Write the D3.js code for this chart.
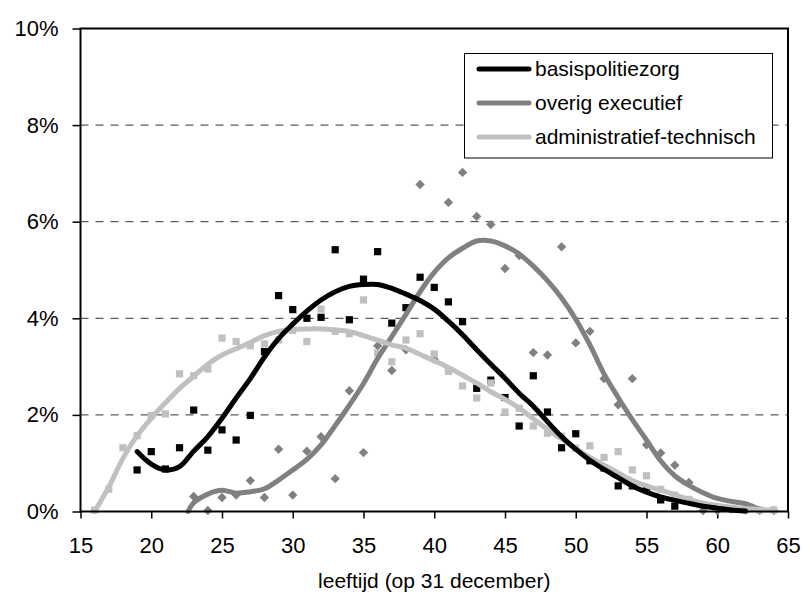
<!DOCTYPE html>
<html>
<head>
<meta charset="utf-8">
<script src="https://cdn.jsdelivr.net/npm/d3@7"></script>
<style>
  html, body { margin: 0; padding: 0; background: #fff; }
  svg { display: block; }
  text { font-family: "Liberation Sans", Arial, sans-serif; fill: #000; }
</style>
</head>
<body>
<svg id="chart" width="803" height="594"></svg>
<script>
// ---------- data ----------
const xTicks = [15, 20, 25, 30, 35, 40, 45, 50, 55, 60, 65];
const yTicks = [0, 2, 4, 6, 8, 10];
const seriesNames = ["basispolitiezorg", "overig executief", "administratief-technisch"];
const xTitle = "leeftijd (op 31 december)";

// observed points (percent), basispolitiezorg: ages 19..57
const basisAges = [19,20,21,22,23,24,25,26,27,28,29,30,31,32,33,34,35,36,37,38,39,40,41,42,43,44,45,46,47,48,49,50,51,52,53,54,55,56,57];
const basisVals = [0.86,1.24,0.88,1.32,2.10,1.27,1.69,1.48,1.99,3.31,4.47,4.18,4.00,4.02,5.42,3.97,4.81,5.38,3.90,4.22,4.85,4.64,4.34,3.93,2.55,2.72,2.36,1.77,2.81,2.06,1.32,1.61,1.05,0.90,0.53,0.53,0.45,0.24,0.11];

// overig executief: ages 23..64
const overigAges = [23,24,25,26,27,28,29,30,31,32,33,34,35,36,37,38,39,40,41,42,43,44,45,46,47,48,49,50,51,52,53,54,55,56,57,58,59,60,61,62,63,64];
const overigVals = [0.31,0.02,0.29,0.34,0.64,0.29,1.29,0.34,1.25,1.55,0.68,2.50,1.22,3.43,2.92,3.35,6.77,3.15,6.40,7.02,6.11,5.94,5.03,5.30,3.29,3.24,5.48,3.49,3.73,2.75,2.21,2.75,1.38,1.21,0.96,0.60,0.02,0.02,0.05,0.03,0.02,0.02];

// administratief-technisch: ages 16..64
const adminAges = [16,17,18,19,20,21,22,23,24,25,26,27,28,29,30,31,32,33,34,35,36,37,38,39,40,41,42,43,44,45,46,47,48,49,50,51,52,53,54,55,56,57,58,59,60,61,62,63,64];
const adminVals = [0.03,0.46,1.32,1.57,1.99,2.02,2.85,2.81,2.95,3.59,3.52,3.43,3.47,3.55,3.75,3.52,4.19,3.73,3.68,4.38,3.28,3.10,3.55,3.68,3.26,2.90,2.60,2.35,2.66,2.06,2.14,1.77,1.62,1.56,1.31,1.36,1.12,1.24,0.86,0.74,0.46,0.34,0.25,0.15,0.08,0.05,0.03,0.03,0.03];

// smoothed trend lines
const basisTrendAges = [19,20,21,22,23,24,25,26,27,28,29,30,31,32,33,34,35,36,37,38,39,40,41,42,43,44,45,46,47,48,49,50,51,52,53,54,55,56,57,58,59,60,61,62];
const basisTrendVals = [1.24,0.98,0.86,0.93,1.25,1.55,1.93,2.35,2.75,3.20,3.58,3.88,4.15,4.38,4.55,4.66,4.70,4.70,4.62,4.50,4.37,4.19,3.94,3.66,3.35,3.05,2.76,2.45,2.18,1.86,1.55,1.29,1.06,0.87,0.70,0.53,0.40,0.30,0.23,0.17,0.11,0.07,0.03,0.01];

const overigTrendAges = [22.6,23,24,25,26,27,28,29,30,31,32,33,34,35,36,37,38,39,40,41,42,43,44,45,46,47,48,49,50,51,52,53,54,55,56,57,58,59,60,61,62,63];
const overigTrendVals = [0.0,0.18,0.36,0.44,0.38,0.41,0.47,0.65,0.86,1.08,1.38,1.78,2.20,2.65,3.17,3.62,4.08,4.55,4.95,5.25,5.45,5.60,5.60,5.50,5.33,5.08,4.78,4.42,3.98,3.45,2.85,2.36,1.90,1.48,1.05,0.74,0.54,0.39,0.27,0.21,0.16,0.04];

const adminTrendAges = [16,17,18,19,20,21,22,23,24,25,26,27,28,29,30,31,32,33,34,35,36,37,38,39,40,41,42,43,44,45,46,47,48,49,50,51,52,53,54,55,56,57,58,59,60,61,62,63,64];
const adminTrendVals = [0.0,0.51,1.10,1.57,1.93,2.25,2.55,2.80,3.05,3.24,3.37,3.50,3.64,3.73,3.77,3.78,3.78,3.76,3.73,3.64,3.55,3.45,3.38,3.25,3.12,2.98,2.82,2.66,2.48,2.32,2.14,1.92,1.70,1.50,1.30,1.12,0.96,0.80,0.64,0.53,0.44,0.35,0.25,0.17,0.13,0.09,0.06,0.04,0.03];

// ---------- chart ----------
const svg = d3.select("#chart");
const x = d3.scaleLinear().domain([15, 65]).range([80.5, 788]);
const y = d3.scaleLinear().domain([0, 10]).range([511.5, 28.5]);

const colors = ["#000000", "#808080", "#c0c0c0"];

// gridlines
svg.append("g").selectAll("line").data(yTicks.filter(d => d > 0 && d < 10)).join("line")
  .attr("x1", x(15)).attr("x2", x(65))
  .attr("y1", d => y(d)).attr("y2", d => y(d))
  .attr("stroke", "#333").attr("stroke-width", 1).attr("stroke-dasharray", "8,7");

// y axis
const yAxis = d3.axisLeft(y).tickValues(yTicks).tickFormat(d => d + "%").tickSize(8).tickPadding(14);
const gy = svg.append("g").attr("transform", `translate(${x(15)},0)`).call(yAxis);
gy.select(".domain").remove();
gy.selectAll(".tick line").attr("stroke", "#000").attr("stroke-width", 1.5);
gy.selectAll(".tick text").attr("font-size", 22).attr("font-family", '"Liberation Sans", Arial, sans-serif').attr("fill", "#000");

// x axis
const xAxis = d3.axisBottom(x).tickValues(xTicks).tickFormat(d3.format("d")).tickSize(7).tickPadding(19);
const gx = svg.append("g").attr("transform", `translate(0,${y(0)})`).call(xAxis);
gx.select(".domain").remove();
gx.selectAll(".tick line").attr("stroke", "#000").attr("stroke-width", 1.5);
gx.selectAll(".tick text").attr("font-size", 22).attr("font-family", '"Liberation Sans", Arial, sans-serif').attr("fill", "#000");

// x title
svg.append("text").attr("x", (x(15) + x(65)) / 2).attr("y", 588)
  .attr("text-anchor", "middle").attr("font-size", 21).text(xTitle);

// markers
const sq = d3.symbol().type(d3.symbolSquare).size(52);
const dm = d3.symbol().type(d3.symbolDiamond2).size(56);

function drawPoints(ages, vals, sym, color) {
  svg.append("g").selectAll("path").data(ages.map((a, i) => [a, vals[i]])).join("path")
    .attr("d", sym)
    .attr("transform", d => `translate(${x(d[0])},${y(d[1])})`)
    .attr("fill", color);
}
drawPoints(basisAges, basisVals, sq, colors[0]);
drawPoints(overigAges, overigVals, dm, colors[1]);
drawPoints(adminAges, adminVals, sq, colors[2]);

// trend lines
const line = d3.line().x(d => x(d[0])).y(d => y(d[1])).curve(d3.curveCatmullRom.alpha(0.5));
function drawLine(ages, vals, color) {
  svg.append("path").datum(ages.map((a, i) => [a, vals[i]]))
    .attr("d", line).attr("fill", "none").attr("stroke", color)
    .attr("stroke-width", 5).attr("stroke-linejoin", "round").attr("stroke-linecap", "round");
}
drawLine(overigTrendAges, overigTrendVals, colors[1]);
drawLine(adminTrendAges, adminTrendVals, colors[2]);
drawLine(basisTrendAges, basisTrendVals, colors[0]);

// frame
svg.append("rect").attr("x", x(15)).attr("y", y(10))
  .attr("width", x(65) - x(15)).attr("height", y(0) - y(10))
  .attr("fill", "none").attr("stroke", "#000").attr("stroke-width", 2);

// legend
const lg = svg.append("g");
lg.append("rect").attr("x", 464.5).attr("y", 53.5).attr("width", 308).attr("height", 104.5)
  .attr("fill", "#fff").attr("stroke", "#000").attr("stroke-width", 1);
seriesNames.forEach((name, i) => {
  const ly = 69 + i * 34;
  lg.append("line").attr("x1", 479).attr("x2", 529).attr("y1", ly).attr("y2", ly)
    .attr("stroke", colors[i]).attr("stroke-width", 5).attr("stroke-linecap", "round");
  lg.append("text").attr("x", 535).attr("y", ly).attr("dy", "0.35em")
    .attr("font-size", 21).text(name);
});
</script>
</body>
</html>
